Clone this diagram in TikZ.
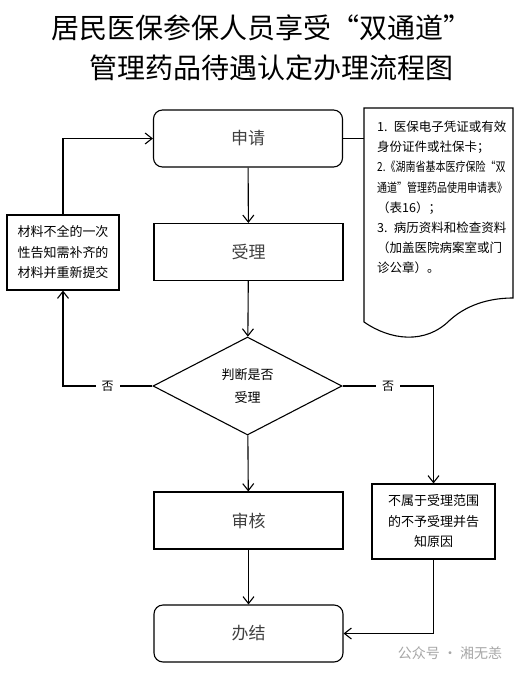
\documentclass[tikz,border=0pt]{standalone}
\usepackage{fontspec}
\setmainfont{Noto Sans CJK SC}
\usepackage{graphicx}
\usepackage{xcolor}
\usetikzlibrary{shapes.geometric, arrows.meta, positioning}
\tikzstyle{startstop} = [rectangle, rounded corners=9pt, minimum width=189pt, minimum height=57pt, text centered, draw=black, line width=1.1pt, text=black!75, font=\fontsize{17}{20}\selectfont]
\tikzstyle{process} = [rectangle, minimum width=189pt, minimum height=57pt, text centered, draw=black, line width=1.1pt, text=black!75, font=\fontsize{17}{20}\selectfont]
\tikzstyle{decision} = [diamond, aspect=1.93, inner sep=0pt, minimum width=189pt, minimum height=98pt, align=center, draw=black, line width=1.1pt, font=\fontsize{13}{23}\selectfont]
\tikzstyle{sidebox} = [rectangle, align=center, draw=black, line width=1.1pt, font=\fontsize{13}{20.5}\selectfont]
\tikzstyle{arrow} = [line width=1.1pt, -{Straight Barb[length=7pt,width=11pt]}]
\tikzstyle{no} = [pos=0.25, fill=white, inner xsep=6pt, font=\fontsize{12}{14}\selectfont]

\begin{document}
\begin{tikzpicture}[x=1pt, y=-1pt]
    \useasboundingbox (0,0) rectangle (521,675);

    % title
    \node (title1) at (261.5,28) {\fontsize{28}{30}\selectfont 居民医保参保人员享受“双通道”};
    \node (title2) at (271,68) {\fontsize{28}{30}\selectfont 管理药品待遇认定办理流程图};

    % main column
    \node (apply) [startstop] at (248,138.5) {申请};
    \node (accept) [process] at (248.5,252) {受理};
    \node (judge) [decision] at (247.5,386) {判断是否\\受理};
    \node (review) [process] at (248.5,520.5) {审核};
    \node (finish) [startstop] at (248.5,633.5) {办结};

    % side boxes
    \node (supply) [sidebox, minimum width=112pt, minimum height=75pt] at (63,252.5) {材料不全的一次\\性告知需补齐的\\材料并重新提交};
    \node (reject) [sidebox, minimum width=123pt, minimum height=75pt] at (433.5,521.5) {不属于受理范围\\的不予受理并告\\知原因};

    % document list
    \node (note) [anchor=north west, inner xsep=13pt, inner ysep=13pt, text width=150pt, align=left,
        font=\fontsize{12.5}{20.1}\selectfont] at (364,108)
        {\mbox{1. 医保电子凭证或有效}\\
         身份证件或社保卡；\\
         \scalebox{0.8}[1]{2.《湖南省基本医疗保险“双}\\
         \scalebox{0.8}[1]{通道”管理药品使用申请表》}\\
         （表16）；\\
         \mbox{3. 病历资料和检查资料}\\
         （加盖医院病案室或门\\
         诊公章）。};
    \draw [line width=1.1pt] (364,108) -- (513,108) -- (513,298)
        .. controls (495,298) and (470,302) .. (450,320)
        .. controls (425,345) and (390,340) .. (364,322) -- cycle;

    % connectors
    \draw [arrow] (apply) -- (accept);
    \draw [arrow] (accept) -- (judge);
    \draw [arrow] (judge) -- (review);
    \draw [arrow] (review) -- (finish);
    \draw [arrow] (judge.west) -| node[no] {否} (supply.south);
    \draw [arrow] (supply.north) |- (apply.west);
    \draw [arrow] (judge.east) -| node[no] {否} (reject.north);
    \draw [arrow] (reject.south) |- (finish.east);
    \draw [line width=1.1pt] (apply.east) -- (apply.east -| note.west);

    % watermark
    \node (mark) [text=black!35, font=\fontsize{14}{16}\selectfont] at (450,653) {公众号 · 湘无恙};
\end{tikzpicture}
\end{document}
